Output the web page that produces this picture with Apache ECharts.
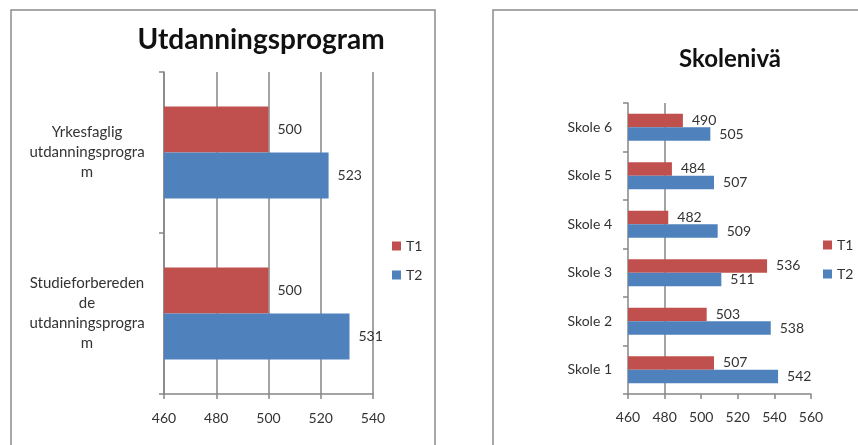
<!DOCTYPE html>
<html>
<head>
<meta charset="utf-8">
<script src="https://cdn.jsdelivr.net/npm/echarts@6/dist/echarts.min.js"></script>
<style>
  html, body { margin: 0; padding: 0; background: #fff; }
  #chart { width: 858px; height: 445px; }
</style>
</head>
<body>
<div id="chart"></div>
<script>
// Utdanningsprogram: categories listed top to bottom
const programCategories = ['Yrkesfaglig utdanningsprogram', 'Studieforberedende utdanningsprogram'];
const programTickLabels = ['Yrkesfaglig\nutdanningsprogra\nm', 'Studieforbereden\nde\nutdanningsprogra\nm'];
const programT1 = [500, 500];
const programT2 = [523, 531];
const programTicks = { min: 460, max: 540, interval: 20 };

// Skolenivå: categories listed bottom to top
const schoolCategories = ['Skole 1', 'Skole 2', 'Skole 3', 'Skole 4', 'Skole 5', 'Skole 6'];
const schoolT1 = [507, 503, 536, 482, 484, 490];
const schoolT2 = [542, 538, 511, 509, 507, 505];
const schoolTicks = { min: 460, max: 560, interval: 20 };

const seriesNames = ['T1', 'T2'];
const RED = '#C0504D';
const BLUE = '#4F81BD';
const AXIS = '#868686';
const TEXT = '#333333';
const FONT = 'Lato, "Open Sans", sans-serif';

const chart = echarts.init(document.getElementById('chart'), null, { renderer: 'canvas' });

function valueLabel() {
  return { show: true, position: 'right', distance: 9, color: TEXT, fontSize: 14, fontFamily: FONT };
}

const option = {
  backgroundColor: '#ffffff',
  animation: false,
  graphic: [
    { type: 'rect', shape: { x: 11, y: 10, width: 424, height: 500 },
      style: { fill: 'none', stroke: '#8c8c8c', lineWidth: 1.5 } },
    { type: 'rect', shape: { x: 493, y: 10, width: 420, height: 500 },
      style: { fill: 'none', stroke: '#8c8c8c', lineWidth: 1.5 } }
  ],
  title: [
    { text: 'Utdanningsprogram', left: 256, top: 21, textAlign: 'center',
      textStyle: { fontSize: 28, fontWeight: 'bold', color: '#111', fontFamily: FONT } },
    { text: 'Skolenivä', left: 725, top: 42, textAlign: 'center',
      textStyle: { fontSize: 24, fontWeight: 'bold', color: '#111', fontFamily: FONT } }
  ],
  legend: [
    { data: seriesNames, orient: 'vertical', left: 387, top: 234, icon: 'rect',
      itemWidth: 9, itemHeight: 9, itemGap: 15,
      textStyle: { color: TEXT, fontSize: 14, fontFamily: FONT } },
    { data: seriesNames, orient: 'vertical', left: 818, top: 233, icon: 'rect',
      itemWidth: 9, itemHeight: 9, itemGap: 15,
      textStyle: { color: TEXT, fontSize: 14, fontFamily: FONT } }
  ],
  grid: [
    { left: 164, right: 858 - 373, top: 72, bottom: 445 - 394, containLabel: false },
    { left: 628, right: 858 - 811, top: 103, bottom: 445 - 394, containLabel: false }
  ],
  xAxis: [
    { type: 'value', gridIndex: 0, min: programTicks.min, max: programTicks.max, interval: programTicks.interval,
      axisLine: { show: true, lineStyle: { color: AXIS, width: 1.5 } },
      axisTick: { show: true, length: 5, lineStyle: { color: AXIS, width: 1.5 } },
      splitLine: { show: true, lineStyle: { color: AXIS, width: 1.5 } },
      axisLabel: { color: TEXT, fontSize: 14, fontFamily: FONT, margin: 17 } },
    { type: 'value', gridIndex: 1, min: schoolTicks.min, max: schoolTicks.max, interval: schoolTicks.interval,
      axisLine: { show: true, lineStyle: { color: AXIS, width: 1.5 } },
      axisTick: { show: true, length: 5, lineStyle: { color: AXIS, width: 1.5 } },
      splitLine: { show: true, lineStyle: { color: ['transparent', AXIS, 'transparent', 'transparent', 'transparent', 'transparent'], width: 1.5 } },
      axisLabel: { color: TEXT, fontSize: 14, fontFamily: FONT, margin: 16 } }
  ],
  yAxis: [
    { type: 'category', gridIndex: 0, data: programCategories, inverse: true,
      axisLine: { show: true, lineStyle: { color: AXIS, width: 1.5 } },
      axisTick: { show: true, length: 5, lineStyle: { color: AXIS, width: 1.5 } },
      axisLabel: { color: TEXT, fontSize: 15, fontFamily: FONT, lineHeight: 20, align: 'center', margin: 77,
        formatter: (v, i) => programTickLabels[i] } },
    { type: 'category', gridIndex: 1, data: schoolCategories,
      axisLine: { show: true, lineStyle: { color: AXIS, width: 1.5 } },
      axisTick: { show: true, length: 5, lineStyle: { color: AXIS, width: 1.5 } },
      axisLabel: { color: TEXT, fontSize: 14, fontFamily: FONT, margin: 16 } }
  ],
  series: [
    { name: seriesNames[0], type: 'bar', xAxisIndex: 0, yAxisIndex: 0, data: programT1,
      itemStyle: { color: RED }, barGap: '0%', barCategoryGap: '43%', label: valueLabel() },
    { name: seriesNames[1], type: 'bar', xAxisIndex: 0, yAxisIndex: 0, data: programT2,
      itemStyle: { color: BLUE }, barGap: '0%', barCategoryGap: '43%', label: valueLabel() },
    { name: seriesNames[0], type: 'bar', xAxisIndex: 1, yAxisIndex: 1, data: schoolT1,
      itemStyle: { color: RED }, barGap: '0%', barCategoryGap: '44%', label: valueLabel() },
    { name: seriesNames[1], type: 'bar', xAxisIndex: 1, yAxisIndex: 1, data: schoolT2,
      itemStyle: { color: BLUE }, barGap: '0%', barCategoryGap: '44%', label: valueLabel() }
  ]
};

chart.setOption(option);
</script>
</body>
</html>
